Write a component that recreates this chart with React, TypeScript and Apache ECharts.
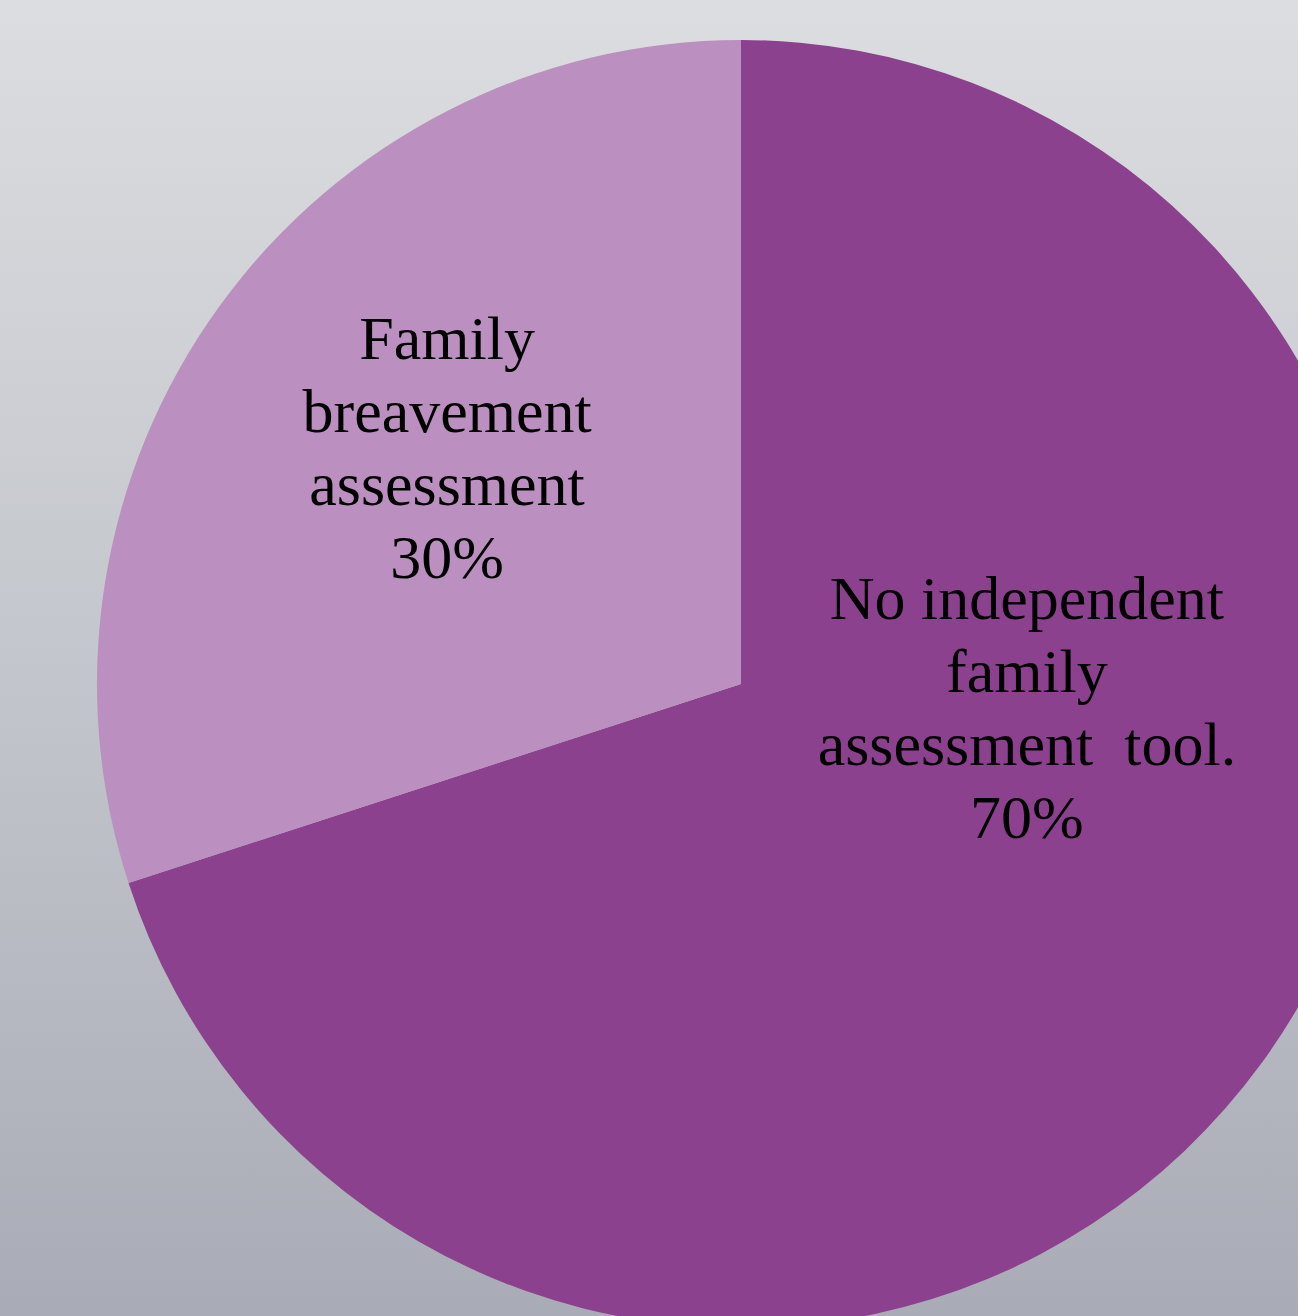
import React, { useEffect, useRef } from "react";
import * as echarts from "echarts";

const categories = [
  "No independent\nfamily\nassessment  tool.",
  "Family\nbreavement\nassessment",
];
const values = [70, 30];
const colors = ["#8c418e", "#bb8fbf"];
const labelShift = [
  [23, -168],
  [-31, -45],
];

export default function App() {
  const ref = useRef<HTMLDivElement>(null);
  useEffect(() => {
    if (!ref.current) return;
    const chart = echarts.init(ref.current, undefined, { renderer: "svg" });
    chart.setOption({
      animation: false,
      backgroundColor: {
        type: "linear",
        x: 0,
        y: 0,
        x2: 0,
        y2: 1,
        colorStops: [
          { offset: 0, color: "#dcdde0" },
          { offset: 0.5, color: "#c3c6cc" },
          { offset: 1, color: "#a9acb6" },
        ],
      },
      series: [
        {
          type: "pie",
          center: [741, 684],
          radius: [0, 644],
          startAngle: 90,
          clockwise: true,
          emphasis: { disabled: true },
          itemStyle: { borderWidth: 0 },
          label: {
            show: true,
            position: "inside",
            formatter: "{b}\n{d}%",
            color: "#000",
            fontFamily: "'Liberation Serif', 'Times New Roman', serif",
            fontSize: 62,
            lineHeight: 73,
            align: "center",
          },
          labelLine: { show: false },
          labelLayout: (params: any) => {
            const s = labelShift[params.dataIndex];
            return { dx: s[0], dy: s[1] };
          },
          data: categories.map((name, i) => ({
            name,
            value: values[i],
            itemStyle: { color: colors[i] },
          })),
        },
      ],
    });
    return () => chart.dispose();
  }, []);
  return (
    <div
      ref={ref}
      style={{ position: "absolute", left: 0, top: 0, width: 1298, height: 1316 }}
    />
  );
}
